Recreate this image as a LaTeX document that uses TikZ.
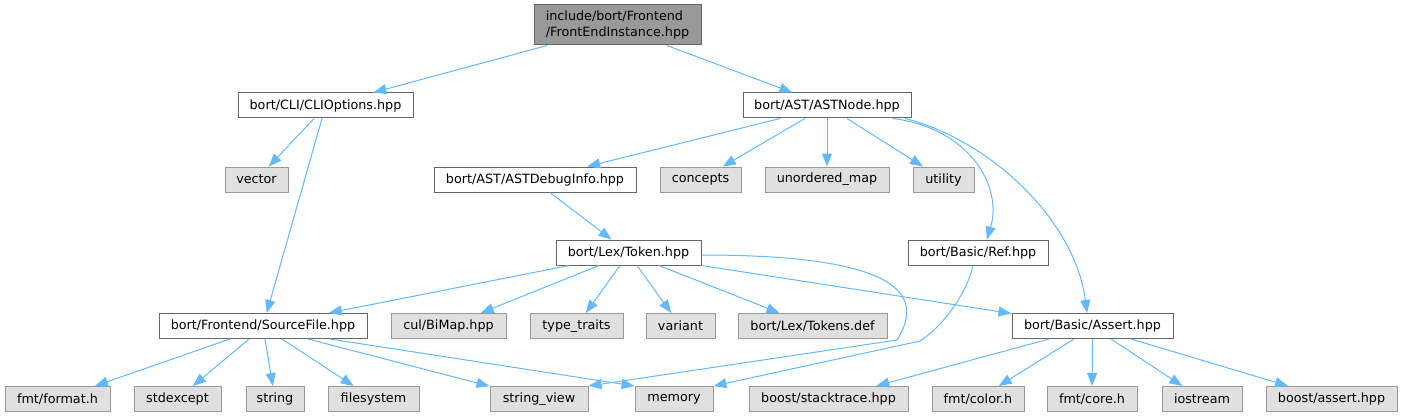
\documentclass[tikz,border=0pt]{standalone}
\usepackage{fontspec}
\setmainfont{DejaVu Sans}
\usetikzlibrary{arrows.meta}

\definecolor{edgeblue}{HTML}{63B8FF}
\definecolor{rootgray}{HTML}{999999}
\definecolor{boxborder}{HTML}{666666}
\definecolor{sysfill}{HTML}{E0E0E0}
\definecolor{sysborder}{HTML}{999999}

\begin{document}
\begin{tikzpicture}[x=1pt, y=-1pt,
  every node/.style={font=\fontsize{12.75}{15.3}\selectfont, inner sep=0pt, minimum height=25pt},
  hdr/.style={draw=boxborder, fill=white, line width=1pt},
  sys/.style={draw=sysborder, fill=sysfill, line width=1pt},
  root/.style={draw=boxborder, fill=rootgray, line width=1pt, align=left, minimum height=40pt},
  dep/.style={draw=edgeblue, line width=1pt, -{Triangle[length=13pt,width=10pt]}}]

  \useasboundingbox (0,0) rectangle (1402,417);

  %% Row 1: the file itself
  \node[root, minimum width=167pt] (fei) at (617.5,25) {include/bort/Frontend\\/FrontEndInstance.hpp};

  %% Row 2
  \node[hdr, minimum width=175pt] (clioptions) at (325.5,105.5) {bort/CLI/CLIOptions.hpp};
  \node[hdr, minimum width=168pt] (astnode) at (827,105.5) {bort/AST/ASTNode.hpp};

  %% Row 3
  \node[sys, minimum width=63pt]  (vector)   at (256.5,179.5) {vector};
  \node[hdr, minimum width=202pt] (astdebug) at (535,179.5)   {bort/AST/ASTDebugInfo.hpp};
  \node[sys, minimum width=81pt]  (concepts) at (700.5,179.5) {concepts};
  \node[sys, minimum width=124pt] (umap)     at (827,179.5)   {unordered\_map};
  \node[sys, minimum width=61pt]  (utility)  at (943.5,179.5) {utility};

  %% Row 4
  \node[hdr, minimum width=145pt] (token) at (628.5,252.5) {bort/Lex/Token.hpp};
  \node[hdr, minimum width=140pt] (ref)   at (978,252.5)   {bort/Basic/Ref.hpp};

  %% Row 5
  \node[hdr, minimum width=208pt] (sourcefile) at (263,326)   {bort/Frontend/SourceFile.hpp};
  \node[sys, minimum width=115pt] (bimap)      at (448.5,326) {cul/BiMap.hpp};
  \node[sys, minimum width=93pt]  (typetraits) at (576.5,326) {type\_traits};
  \node[sys, minimum width=69pt]  (variant)    at (680.5,326) {variant};
  \node[sys, minimum width=149pt] (tokensdef)  at (812.5,326) {bort/Lex/Tokens.def};
  \node[hdr, minimum width=161pt] (assert)     at (1092.5,326) {bort/Basic/Assert.hpp};

  %% Row 6: leaves
  \node[sys, minimum width=105pt] (formath)     at (57.5,399)   {fmt/format.h};
  \node[sys, minimum width=87pt]  (stdexcept)   at (177.5,399)  {stdexcept};
  \node[sys, minimum width=58pt]  (string)      at (275,399)    {string};
  \node[sys, minimum width=91pt]  (filesystem)  at (373.5,399)  {filesystem};
  \node[sys, minimum width=98pt]  (stringview)  at (539,399)    {string\_view};
  \node[sys, minimum width=78pt]  (memory)      at (674,399)    {memory};
  \node[sys, minimum width=159pt] (stacktrace)  at (828.5,399)  {boost/stacktrace.hpp};
  \node[sys, minimum width=92pt]  (fmtcolor)    at (978,399)    {fmt/color.h};
  \node[sys, minimum width=90pt]  (fmtcore)     at (1092,399)   {fmt/core.h};
  \node[sys, minimum width=80pt]  (iostream)    at (1202,399)   {iostream};
  \node[sys, minimum width=131pt] (boostassert) at (1331.5,399) {boost/assert.hpp};

  % bends of the two long curved edges
  \coordinate (tokbend) at (897,340);
  \coordinate (refbend) at (920,341);

  %% Edges
  \draw[dep] ([xshift=-70.5pt]fei.south) -- (clioptions);
  \draw[dep] ([xshift=49.5pt]fei.south) -- (astnode);

  \draw[dep] ([xshift=-11.5pt]clioptions.south) -- (vector);
  \draw[dep] ([xshift=-3.5pt]clioptions.south) -- (sourcefile);

  \draw[dep] ([xshift=-47pt]astnode.south) -- (astdebug);
  \draw[dep] ([xshift=-22pt]astnode.south) -- (concepts);
  \draw[dep] (astnode.south) -- (umap);
  \draw[dep] ([xshift=20pt]astnode.south) -- (utility);
  \draw[dep] ([xshift=66pt]astnode.south) .. controls (968,128) and (1003,185) .. ([xshift=9pt]ref.north);
  \draw[dep] ([xshift=78pt]astnode.south) .. controls (990,140) and (1075,220) .. ([xshift=-5.5pt]assert.north);

  \draw[dep] ([xshift=15pt]astdebug.south) -- (token);

  \draw[dep] ([xshift=-59.5pt]token.south) -- (sourcefile);
  \draw[dep] ([xshift=-29.5pt]token.south) -- (bimap);
  \draw[dep] ([xshift=-8.5pt]token.south) -- (typetraits);
  \draw[dep] ([xshift=8.5pt]token.south) -- (variant);
  \draw[dep] ([xshift=30.5pt]token.south) -- (tokensdef);
  \draw[dep] (token.south east) -- (assert);
  \draw[dep] ([yshift=-2.5pt]token.east) .. controls (860,255) and (935,280) .. (tokbend) -- (stringview.north east);

  \draw[dep] ([xshift=-5pt]ref.south) .. controls (968,290) and (945,325) .. (refbend) -- (memory.north east);

  % SourceFile.hpp
  \draw[dep] ([xshift=-33pt]sourcefile.south) -- (formath);
  \draw[dep] ([xshift=-14pt]sourcefile.south) -- (stdexcept);
  \draw[dep] ([xshift=2pt]sourcefile.south) -- (string);
  \draw[dep] ([xshift=19pt]sourcefile.south) -- (filesystem);
  \draw[dep] ([xshift=45pt]sourcefile.south) -- (stringview);
  \draw[dep] ([xshift=67pt]sourcefile.south) -- (memory.north west);

  % Assert.hpp
  \draw[dep] ([xshift=-43.5pt]assert.south) -- (stacktrace);
  \draw[dep] ([xshift=-18.5pt]assert.south) -- (fmtcolor);
  \draw[dep] (assert.south) -- (fmtcore);
  \draw[dep] ([xshift=18.5pt]assert.south) -- (iostream);
  \draw[dep] ([xshift=38.5pt]assert.south) -- (boostassert);

\end{tikzpicture}
\end{document}
